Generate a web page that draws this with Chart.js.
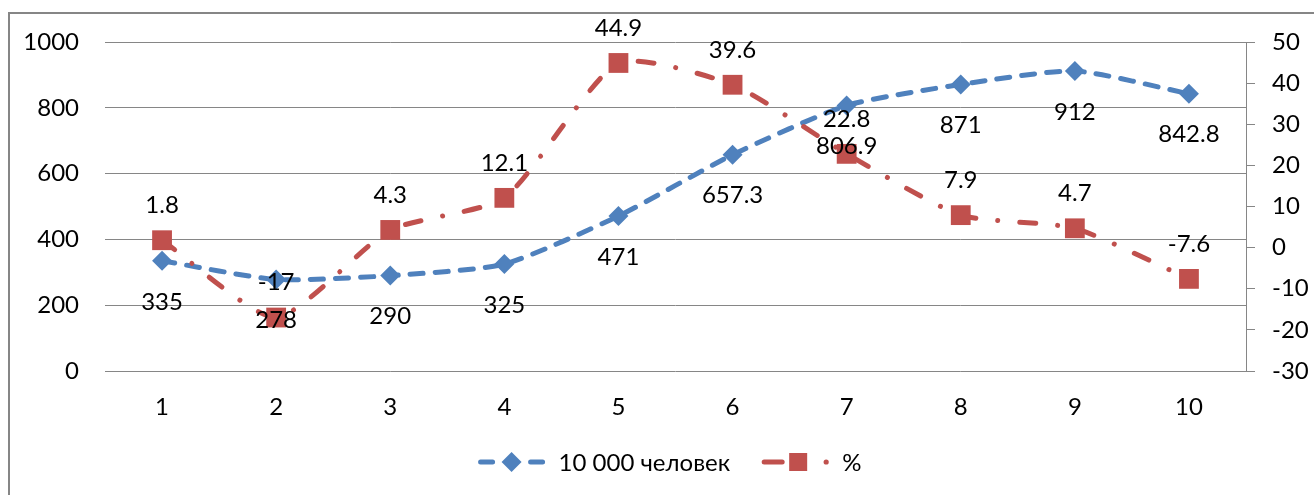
<!DOCTYPE html>
<html>
<head>
<meta charset="utf-8">
<script src="https://cdn.jsdelivr.net/npm/chart.js@4/dist/chart.umd.min.js"></script>
<style>
  html, body { margin: 0; padding: 0; background: #ffffff; }
  #wrap { width: 1314px; height: 495px; position: relative; }
</style>
</head>
<body>
<div id="wrap"><canvas id="chart" width="1314" height="495"></canvas></div>
<script>
// Categories along the horizontal axis
const categories = ['1', '2', '3', '4', '5', '6', '7', '8', '9', '10'];

// Series 1 (left axis)
const populationName = '10 000 человек';
const population = [335, 278, 290, 325, 471, 657.3, 806.9, 871, 912, 842.8];

// Series 2 (right axis)
const percentName = '%';
const percentChange = [1.8, -17, 4.3, 12.1, 44.9, 39.6, 22.8, 7.9, 4.7, -7.6];

// Axis ranges
const leftAxis = { min: 0, max: 1000, step: 200 };
const rightAxis = { min: -30, max: 50, step: 10 };

const BLUE = '#4F81BD';
const RED = '#C0504D';
const GRID = '#868686';
const FONT = 'Lato, "Open Sans", "Liberation Sans", sans-serif';
const FONT_SIZE = 24;

Chart.defaults.font.family = FONT;
Chart.defaults.font.size = FONT_SIZE;
Chart.defaults.color = '#000000';

// Frame around the whole chart
const framePlugin = {
  id: 'frame',
  beforeDraw(chart) {
    const ctx = chart.ctx;
    ctx.save();
    ctx.fillStyle = '#ffffff';
    ctx.fillRect(0, 0, chart.width, chart.height);
    ctx.strokeStyle = GRID;
    ctx.lineWidth = 2;
    ctx.strokeRect(9, 13, chart.width + 20, chart.height + 20);
    ctx.restore();
  }
};

// Value labels: first series below its points, second series above
const valueLabels = {
  id: 'valueLabels',
  afterDatasetsDraw(chart) {
    const ctx = chart.ctx;
    ctx.save();
    ctx.font = FONT_SIZE + 'px ' + FONT;
    ctx.fillStyle = '#000000';
    ctx.textAlign = 'center';
    ctx.textBaseline = 'middle';
    chart.data.datasets.forEach((ds, i) => {
      const meta = chart.getDatasetMeta(i);
      meta.data.forEach((pt, j) => {
        ctx.fillText(String(ds.data[j]), pt.x, pt.y + ds.labelShift);
      });
    });
    ctx.restore();
  }
};

// Legend below the plot: line sample with marker, then the series name
const bottomLegend = {
  id: 'bottomLegend',
  afterDraw(chart) {
    const ctx = chart.ctx;
    const y = 462;
    ctx.save();
    ctx.font = FONT_SIZE + 'px ' + FONT;
    ctx.textBaseline = 'middle';
    ctx.textAlign = 'left';
    const sample = 66, gapText = 14, gapItems = 32;
    const items = [chart.data.datasets[0], chart.data.datasets[1]];
    let total = 0;
    items.forEach((ds, k) => {
      total += sample + gapText + ctx.measureText(ds.label).width;
      if (k < items.length - 1) total += gapItems;
    });
    let x = 670 - total / 2;
    items.forEach((ds) => {
      ctx.lineCap = 'round';
      ctx.lineWidth = 5;
      ctx.strokeStyle = ds.borderColor;
      ctx.fillStyle = ds.borderColor;
      const cx = x + sample / 2;
      if (ds.pointStyle === 'rectRot') {
        ctx.beginPath();
        ctx.moveTo(x + 2, y); ctx.lineTo(x + 14, y);
        ctx.moveTo(x + sample - 14, y); ctx.lineTo(x + sample - 2, y);
        ctx.stroke();
        ctx.beginPath();
        ctx.moveTo(cx, y - 10); ctx.lineTo(cx + 10, y);
        ctx.lineTo(cx, y + 10); ctx.lineTo(cx - 10, y);
        ctx.closePath(); ctx.fill();
      } else {
        ctx.beginPath();
        ctx.moveTo(x + 2, y); ctx.lineTo(x + 20, y);
        ctx.stroke();
        ctx.fillRect(x + 27, y - 9, 18, 18);
        ctx.beginPath();
        ctx.arc(x + sample - 2, y, 2.6, 0, Math.PI * 2);
        ctx.fill();
      }
      ctx.fillStyle = '#000000';
      ctx.fillText(ds.label, x + sample + gapText, y + 1);
      x += sample + gapText + ctx.measureText(ds.label).width + gapItems;
    });
    ctx.restore();
  }
};

new Chart(document.getElementById('chart'), {
  type: 'line',
  data: {
    labels: categories,
    datasets: [
      {
        label: populationName,
        data: population,
        yAxisID: 'y',
        order: 1,
        borderColor: BLUE,
        backgroundColor: BLUE,
        borderWidth: 5,
        borderDash: [13, 12],
        borderCapStyle: 'round',
        tension: 0.2,
        pointStyle: 'rectRot',
        pointRadius: 10,
        pointBorderWidth: 0,
        pointBackgroundColor: BLUE,
        fill: false,
        labelShift: 41
      },
      {
        label: percentName,
        data: percentChange,
        yAxisID: 'y1',
        order: 0,
        borderColor: RED,
        backgroundColor: RED,
        borderWidth: 5,
        borderDash: [16, 22, 0.01, 22],
        borderCapStyle: 'round',
        tension: 0.2,
        pointStyle: 'rect',
        pointRadius: 14,
        pointBorderWidth: 0,
        pointBackgroundColor: RED,
        fill: false,
        labelShift: -35
      }
    ]
  },
  options: {
    responsive: false,
    animation: false,
    devicePixelRatio: 1,
    layout: { padding: { top: 42, left: 0, right: 0, bottom: 0 } },
    plugins: {
      legend: { display: false },
      tooltip: { enabled: false }
    },
    scales: {
      x: {
        offset: true,
        grid: { display: false, drawTicks: false },
        border: { display: false },
        ticks: { padding: 22, maxRotation: 0, autoSkip: false },
        afterFit(scale) { scale.height = 124; }
      },
      y: {
        position: 'left',
        min: leftAxis.min,
        max: leftAxis.max,
        ticks: { stepSize: leftAxis.step, padding: 26, callback: (v) => String(v) },
        grid: { color: GRID, lineWidth: 1, drawTicks: false },
        border: { display: false },
        afterFit(scale) { scale.width = 105; }
      },
      y1: {
        position: 'right',
        min: rightAxis.min,
        max: rightAxis.max,
        ticks: { stepSize: rightAxis.step, padding: 17, callback: (v) => String(v) },
        grid: { drawOnChartArea: false, drawTicks: true, tickLength: 9, color: GRID, lineWidth: 1 },
        border: { display: true, color: GRID, width: 1 },
        afterFit(scale) { scale.width = 68; }
      }
    }
  },
  plugins: [framePlugin, valueLabels, bottomLegend]
});
</script>
</body>
</html>
